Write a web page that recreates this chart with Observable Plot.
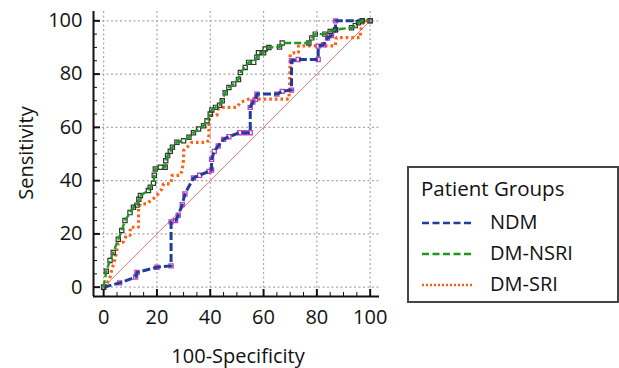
<!DOCTYPE html>
<html>
<head>
<meta charset="utf-8">
<script src="https://cdn.jsdelivr.net/npm/d3@7"></script>
<script src="https://cdn.jsdelivr.net/npm/@observablehq/plot@0.6"></script>
<style>
  html, body { margin: 0; padding: 0; background: #fff; }
  #wrap { position: relative; width: 619px; height: 368px; font-family: "Open Sans", Lato, sans-serif; color: #111; }
  .lab { position: absolute; font-size: 20px; white-space: nowrap; }
  #legend { position: absolute; left: 407px; top: 166px; width: 208px; height: 133px; border: 2px solid #454545; box-sizing: content-box; }
  #legend .t { position: absolute; left: 12px; top: 6px; font-size: 20.5px; white-space: nowrap; }
  #legend .row { position: absolute; left: 12px; width: 194px; height: 28px; font-size: 20px; white-space: nowrap; }
  #legend svg { position: absolute; left: 0; top: 9px; }
  #legend span { position: absolute; left: 69px; top: 0; white-space: nowrap; }
</style>
</head>
<body>
<div id="wrap"></div>
<script>
// ---- data ----
const groups = ["NDM", "DM-NSRI", "DM-SRI"];
const colors = ["#1f3d9c", "#1d9a1d", "#ff6010"];
const markerColors = ["#c040c0", "#333333", "#ff8c40"];
const majorTicks = [0, 20, 40, 60, 80, 100];
const minorTicks = [5, 10, 15, 25, 30, 35, 45, 50, 55, 65, 70, 75, 85, 90, 95];
const diagX = [0, 100];
const diagY = [0, 100];

const ndmX = [0, 6, 12, 12.5, 20, 25.3, 25.3, 27, 28, 29.5, 30.5, 33.7, 36, 39.5, 40.5, 40.5, 41.5, 43, 45, 47, 51, 53, 55, 55, 56, 57, 57.5, 65, 67, 70.5, 70.5, 73, 80.5, 80.5, 82.5, 84, 85.5, 87, 87, 100];
const ndmY = [0, 1.6, 3.8, 5.5, 7.5, 8, 24.5, 25, 27, 31, 35, 41, 42, 43.5, 44, 48, 51, 53, 55.5, 56.5, 58, 58, 58, 67.5, 69.5, 70.5, 72.5, 72.5, 73.5, 74, 85, 85.5, 85.5, 90.5, 91, 93.5, 94.5, 96.5, 100, 100];

const nsriX = [0, 1, 2.4, 3.6, 5.5, 6.8, 8, 9.9, 11.2, 12.5, 13.2, 13.8, 16.8, 17.5, 18.7, 19, 19.4, 21.3, 23.1, 23.3, 24, 25, 25.8, 27.5, 30, 32, 33.7, 35.6, 37.5, 38.8, 40, 40.6, 42, 43.5, 44.5, 45.6, 47, 48.8, 50.6, 51.3, 53.1, 54.4, 56.3, 57.5, 58.1, 60, 60.6, 62, 66, 67, 77, 78.1, 79.4, 83, 85, 87, 93, 94.4, 95.6, 97, 100];
const nsriY = [0, 6, 10, 13, 18, 21.3, 25, 28, 30, 30.8, 33, 34.4, 36.3, 37.5, 39, 42, 44.4, 45, 45, 47.5, 49.4, 51, 52.5, 54.4, 55, 56.3, 58, 59.4, 60.6, 62.5, 65, 66.5, 67.5, 68.3, 70, 73, 75, 76.3, 78, 80.6, 82.5, 84.4, 84.4, 86.3, 88, 88, 89.4, 90, 90.2, 91.7, 91.7, 93.6, 95, 95, 96, 96.7, 97.4, 98.2, 99.3, 100, 100];

const sriX = [0, 1, 2.4, 3, 4.3, 4.9, 5.5, 7.4, 8.5, 10, 10, 13.1, 13.1, 13.8, 16.3, 17, 19.4, 21.9, 22.5, 25, 25.6, 25.6, 28.8, 29.4, 30, 30, 31.3, 33, 38.8, 39.5, 39.5, 40, 42.5, 43.1, 45, 50, 51.3, 53.1, 54.4, 69.5, 69.8, 70, 71.3, 73.1, 73.1, 86.9, 87.3, 96.3, 96.3, 97.5, 100];
const sriY = [0, 0.8, 3.8, 6.3, 10.6, 13.8, 16.3, 17, 19.4, 19.4, 22.5, 22.5, 30, 31.3, 31.3, 32, 33.8, 36.9, 38.8, 38.8, 40.6, 42, 42, 43.8, 48, 51.3, 52.5, 54.4, 54.4, 55.6, 62.5, 64.5, 64.5, 67, 67.5, 67.5, 69.4, 70, 70.6, 70.6, 76, 87.4, 88, 88, 90.6, 90.6, 93.7, 93.7, 96, 100, 100];

const xDomain = [-3.8, 103.5];
const yDomain = [-3.5, 103.5];

// ---- build ----
const toRows = (xs, ys) => xs.map((x, i) => ({x, y: ys[i]}));
const ndm = toRows(ndmX, ndmY);
const nsri = toRows(nsriX, nsriY);
const sri = toRows(sriX, sriY);
const diag = toRows(diagX, diagY);

const chart = Plot.plot({
  width: 619,
  height: 368,
  marginLeft: 93,
  marginRight: 240,
  marginTop: 11,
  marginBottom: 72,
  x: {domain: xDomain},
  y: {domain: yDomain},
  style: {fontFamily: "'Open Sans', Lato, sans-serif", fontSize: "20px", color: "#111", background: "#fff"},
  marks: [
    Plot.gridX(majorTicks, {stroke: "#a8a8a8", strokeOpacity: 1, strokeWidth: 1.2, strokeDasharray: "2,2.5"}),
    Plot.gridY(majorTicks, {stroke: "#a8a8a8", strokeOpacity: 1, strokeWidth: 1.2, strokeDasharray: "2,2.5"}),
    Plot.line(diag, {x: "x", y: "y", stroke: "#e07a7a", strokeWidth: 1}),
    // DM-SRI
    Plot.line(sri, {x: "x", y: "y", stroke: colors[2], strokeWidth: 3.2, strokeDasharray: "2.6,3", strokeLinecap: "butt", strokeLinejoin: "miter"}),
    // NDM
    Plot.dot(ndm, {x: "x", y: "y", symbol: "square", r: 2.3, stroke: markerColors[0], fill: "none", strokeWidth: 1.3}),
    Plot.line(ndm, {x: "x", y: "y", stroke: colors[0], strokeWidth: 3, strokeDasharray: "8,3", strokeLinecap: "butt"}),
    // DM-NSRI
    Plot.dot(nsri, {x: "x", y: "y", symbol: "square", r: 2.4, stroke: markerColors[1], fill: "none", strokeWidth: 1.2}),
    Plot.line(nsri, {x: "x", y: "y", stroke: colors[1], strokeWidth: 2.4, strokeDasharray: "7,3", strokeLinecap: "butt"}),
    // axes lines
    Plot.ruleY([yDomain[0]], {stroke: "#111", strokeWidth: 2}),
    Plot.ruleX([xDomain[0]], {stroke: "#111", strokeWidth: 2}),
    // inward ticks
    Plot.axisX({ticks: majorTicks, tickSize: 7, dy: -7, tickFormat: () => "", label: null, strokeWidth: 2}),
    Plot.axisX({ticks: minorTicks, tickSize: 4, dy: -4, tickFormat: () => "", label: null, strokeWidth: 1}),
    Plot.axisY({ticks: majorTicks, tickSize: 7, dx: 7, tickFormat: () => "", label: null, strokeWidth: 2}),
    Plot.axisY({ticks: minorTicks, tickSize: 4, dx: 4, tickFormat: () => "", label: null, strokeWidth: 1}),
    // tick labels
    Plot.axisX({ticks: majorTicks, tickSize: 0, tickPadding: 13, label: null, fontSize: 20}),
    Plot.axisY({ticks: majorTicks, tickSize: 0, tickPadding: 11, label: null, fontSize: 20})
  ]
});

const wrap = document.getElementById("wrap");
wrap.appendChild(chart);
chart.style.position = "absolute";
chart.style.left = "0";
chart.style.top = "0";

// axis titles
const yl = document.createElement("div");
yl.className = "lab";
yl.textContent = "Sensitivity";
yl.style.left = "25px"; yl.style.top = "153px";
yl.style.transform = "translate(-50%,-50%) rotate(-90deg)";
wrap.appendChild(yl);

const xl = document.createElement("div");
xl.className = "lab";
xl.textContent = "100-Specificity";
xl.style.left = "238px"; xl.style.top = "355px";
xl.style.transform = "translate(-50%,-50%)";
wrap.appendChild(xl);

// legend
const lg = document.createElement("div");
lg.id = "legend";
const t = document.createElement("div");
t.className = "t";
t.textContent = "Patient Groups";
lg.appendChild(t);
const dashes = ["7,3.5", "7,3.5", "2,2"];
const widths = [2.6, 2.6, 2.4];
const rowTops = [40, 71, 102];
groups.forEach((g, i) => {
  const row = document.createElement("div");
  row.className = "row";
  row.style.top = rowTops[i] + "px";
  row.innerHTML = `<svg width="54" height="12"><line x1="1" x2="53" y1="6" y2="6" stroke="${colors[i]}" stroke-width="${widths[i]}" stroke-dasharray="${dashes[i]}"/></svg><span>${g}</span>`;
  lg.appendChild(row);
});
wrap.appendChild(lg);
</script>
</body>
</html>
